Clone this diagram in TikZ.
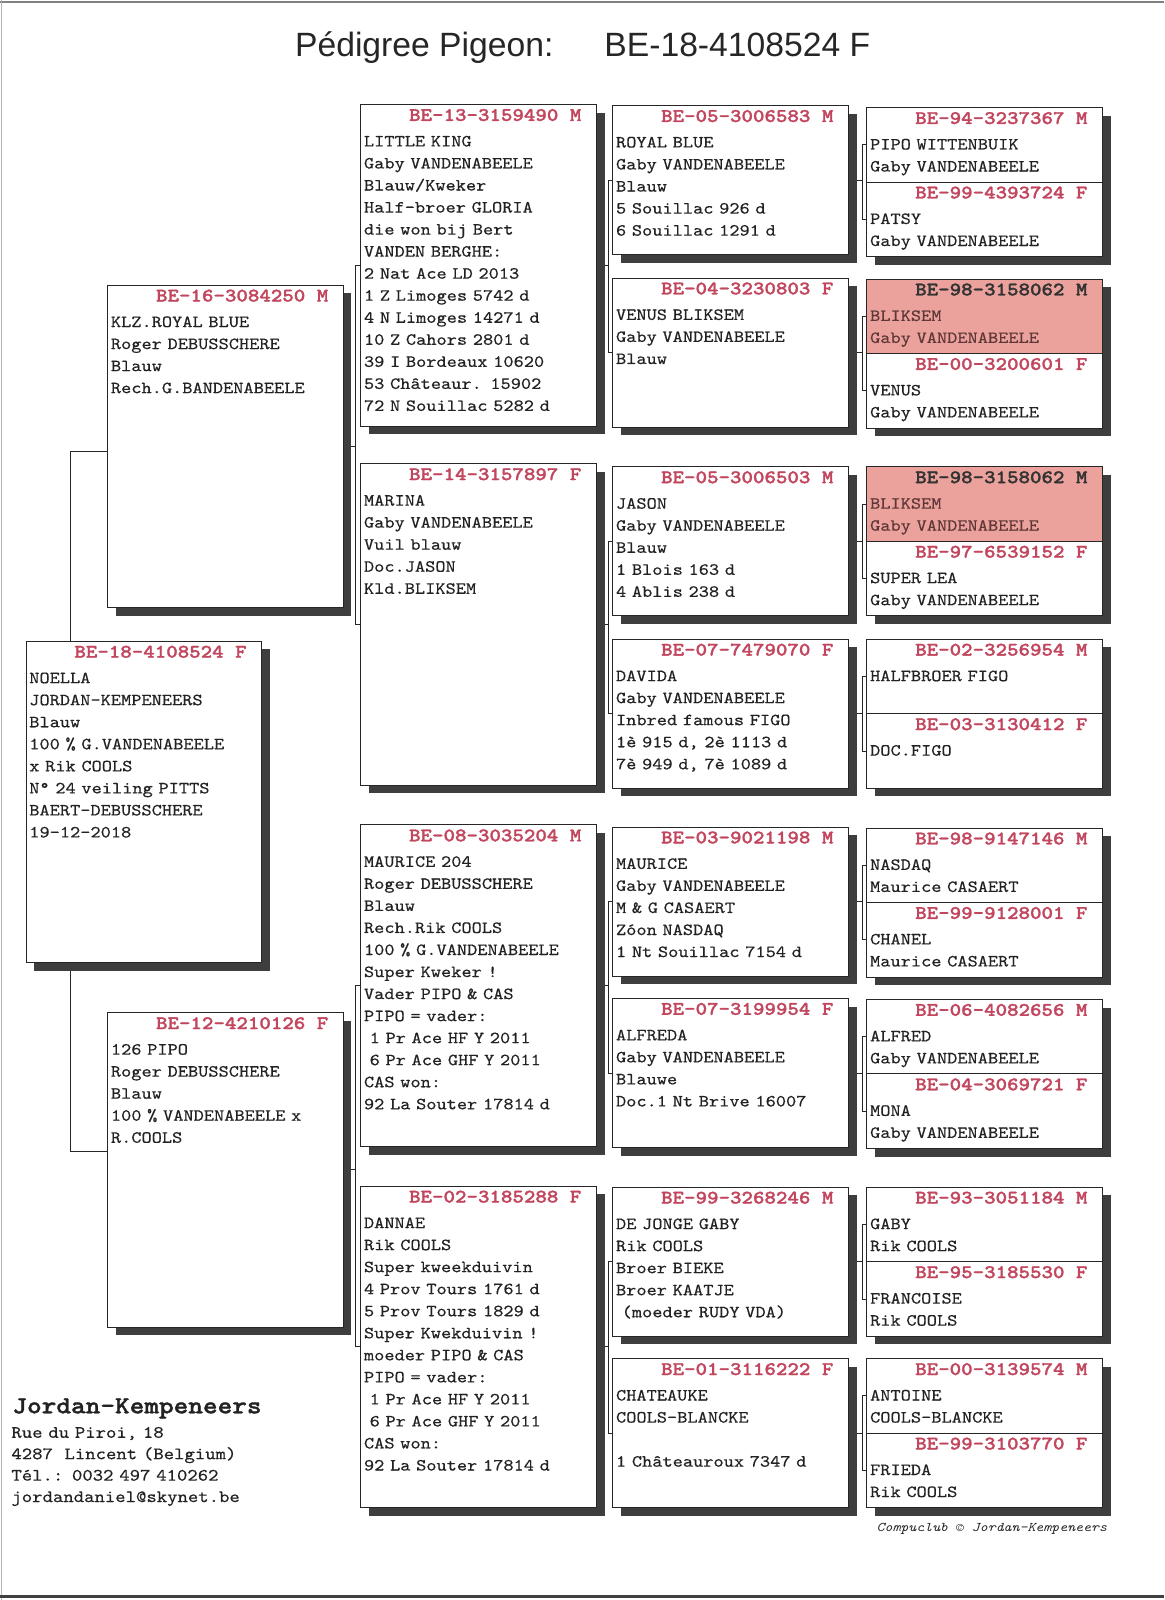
\documentclass[tikz,border=0pt]{standalone}
\usepackage{fontspec}
\newfontfamily\cour{lmmono10-regular.otf}[FakeStretch=1.14,UprightFeatures={FakeBold=0.4},
  BoldFont=lmmonolt10-bold.otf,BoldFeatures={FakeBold=1.4},ItalicFont=lmmono10-italic.otf]
\newfontfamily\arial{Liberation Sans}
\usepackage{xcolor}
\usetikzlibrary{calc,shadows,backgrounds}

\definecolor{hdred}{RGB}{194,70,94}
\definecolor{ink}{RGB}{34,34,34}
\definecolor{pinkbg}{RGB}{236,162,156}
\definecolor{pinkink}{RGB}{95,55,55}
\definecolor{shade}{RGB}{62,62,62}

\begin{document}
\begin{tikzpicture}[x=1pt,y=-1pt,
  box/.style={draw=black!85,line width=0.9pt,fill=white,anchor=north west,inner sep=0pt,
    minimum width=231pt,drop shadow={shadow xshift=8pt,shadow yshift=-8pt,fill=shade,opacity=1}},
  big/.style={box,minimum height=315pt},
  small/.style={box,minimum height=146pt},
  half/.style={box,minimum height=73pt},
  hot/.style={fill=pinkbg},
  hd/.style={anchor=base east,xshift=-15pt,yshift=-16.5pt,inner sep=0pt,text=hdred,
    font=\cour\bfseries\fontsize{18.8}{20}\selectfont},
  txt/.style={anchor=base west,xshift=3.5pt,yshift=-41.5pt,inner sep=0pt,text width=224pt,
    align=left,text=ink,font=\cour\fontsize{16.7}{21.6}\selectfont},
  link/.style={black!85,line width=0.8pt}]
  \useasboundingbox (0,0) rectangle (1141,1568);
  % scanner edges
  \draw[black!50,line width=1.5pt] (0,2) -- (1141,2);
  \draw[black!30,line width=1.5pt] (1.5,0) -- (1.5,1568);
  \draw[black!75,line width=3pt] (0,1565) -- (1141,1565);

  \node[anchor=base west,inner sep=0pt,text=black!85,font=\arial\fontsize{33}{36}\selectfont] (title) at (289,55)
    {Pédigree Pigeon:\hspace{50pt}BE-18-4108524 F};

  % generation 1 : the pigeon itself
  \node[big,label={[hd]north east:BE-18-4108524 F}] (noella) at (25,628) {};
  \node[txt] at (noella.north west) {NOELLA\\JORDAN-KEMPENEERS\\Blauw\\100 \% G.VANDENABEELE\\x Rik COOLS\\N° 24 veiling PITTS\\BAERT-DEBUSSCHERE\\19-12-2018};

  % generation 2 : father (top) and mother (bottom)
  \node[big,minimum height=316pt,label={[hd]north east:BE-16-3084250 M}] (klzroyal) at (105,279) {};
  \node[txt] at (klzroyal.north west) {KLZ.ROYAL BLUE\\Roger DEBUSSCHERE\\Blauw\\Rech.G.BANDENABEELE};
  \node[big,minimum height=308pt,label={[hd]north east:BE-12-4210126 F}] (pipo126) at (105,992) {};
  \node[txt] at (pipo126.north west) {126 PIPO\\Roger DEBUSSCHERE\\Blauw\\100 \% VANDENABEELE x\\R.COOLS};

  % generation 3 : grandparents
  \node[big,label={[hd]north east:BE-13-3159490 M}] (littleking) at (353,102) {};
  \node[txt] at (littleking.north west) {LITTLE KING\\Gaby VANDENABEELE\\Blauw/Kweker\\Half-broer GLORIA\\die won bij Bert\\VANDEN BERGHE:\\2 Nat Ace LD 2013\\1 Z Limoges 5742 d\\4 N Limoges 14271 d\\10 Z Cahors 2801 d\\39 I Bordeaux 10620\\53 Châteaur. 15902\\72 N Souillac 5282 d};
  \node[big,label={[hd]north east:BE-14-3157897 F}] (marina) at (353,454) {};
  \node[txt] at (marina.north west) {MARINA\\Gaby VANDENABEELE\\Vuil blauw\\Doc.JASON\\Kld.BLIKSEM};
  \node[big,label={[hd]north east:BE-08-3035204 M}] (maurice) at (353,808) {};
  \node[txt] at (maurice.north west) {MAURICE 204\\Roger DEBUSSCHERE\\Blauw\\Rech.Rik COOLS\\100 \% G.VANDENABEELE\\Super Kweker !\\Vader PIPO \& CAS\\PIPO = vader:\\~1 Pr Ace HF Y 2011\\~6 Pr Ace GHF Y 2011\\CAS won:\\92 La Souter 17814 d};
  \node[big,label={[hd]north east:BE-02-3185288 F}] (dannae) at (353,1162) {};
  \node[txt] at (dannae.north west) {DANNAE\\Rik COOLS\\Super kweekduivin\\4 Prov Tours 1761 d\\5 Prov Tours 1829 d\\Super Kwekduivin !\\moeder PIPO \& CAS\\PIPO = vader:\\~1 Pr Ace HF Y 2011\\~6 Pr Ace GHF Y 2011\\CAS won:\\92 La Souter 17814 d};

  % generation 4 : great-grandparents
  \node[small,label={[hd]north east:BE-05-3006583 M}] (royalblue) at (600,103) {};
  \node[txt] at (royalblue.north west) {ROYAL BLUE\\Gaby VANDENABEELE\\Blauw\\5 Souillac 926 d\\6 Souillac 1291 d};
  \node[small,label={[hd]north east:BE-04-3230803 F}] (venusbliksem) at (600,272) {};
  \node[txt] at (venusbliksem.north west) {VENUS BLIKSEM\\Gaby VANDENABEELE\\Blauw};
  \node[small,label={[hd]north east:BE-05-3006503 M}] (jason) at (600,457) {};
  \node[txt] at (jason.north west) {JASON\\Gaby VANDENABEELE\\Blauw\\1 Blois 163 d\\4 Ablis 238 d};
  \node[small,label={[hd]north east:BE-07-7479070 F}] (davida) at (600,626) {};
  \node[txt] at (davida.north west) {DAVIDA\\Gaby VANDENABEELE\\Inbred famous FIGO\\1è 915 d, 2è 1113 d\\7è 949 d, 7è 1089 d};
  \node[small,label={[hd]north east:BE-03-9021198 M}] (mauriceg) at (600,810) {};
  \node[txt] at (mauriceg.north west) {MAURICE\\Gaby VANDENABEELE\\M \& G CASAERT\\Zóon NASDAQ\\1 Nt Souillac 7154 d};
  \node[small,label={[hd]north east:BE-07-3199954 F}] (alfreda) at (600,978) {};
  \node[txt] at (alfreda.north west) {ALFREDA\\Gaby VANDENABEELE\\Blauwe\\Doc.1 Nt Brive 16007};
  \node[small,label={[hd]north east:BE-99-3268246 M}] (jongegaby) at (600,1163) {};
  \node[txt] at (jongegaby.north west) {DE JONGE GABY\\Rik COOLS\\Broer BIEKE\\Broer KAATJE\\~(moeder RUDY VDA)};
  \node[small,label={[hd]north east:BE-01-3116222 F}] (chateauke) at (600,1331) {};
  \node[txt] at (chateauke.north west) {CHATEAUKE\\COOLS-BLANCKE\\[21.6pt]1 Châteauroux 7347 d};

  % generation 5 : stacked pairs, BLIKSEM highlighted
  \node[half,label={[hd]north east:BE-94-3237367 M}] (pipow) at (849,105) {};
  \node[txt] at (pipow.north west) {PIPO WITTENBUIK\\Gaby VANDENABEELE};
  \node[half,label={[hd]north east:BE-99-4393724 F}] (patsy) at (849,178) {};
  \node[txt] at (patsy.north west) {PATSY\\Gaby VANDENABEELE};
  \node[half,hot,label={[hd,text=black!80]north east:BE-98-3158062 M}] (bliksema) at (849,273) {};
  \node[txt,text=pinkink] at (bliksema.north west) {BLIKSEM\\Gaby VANDENABEELE};
  \node[half,label={[hd]north east:BE-00-3200601 F}] (venus) at (849,346) {};
  \node[txt] at (venus.north west) {VENUS\\Gaby VANDENABEELE};
  \node[half,hot,label={[hd,text=black!80]north east:BE-98-3158062 M}] (bliksemb) at (849,457) {};
  \node[txt,text=pinkink] at (bliksemb.north west) {BLIKSEM\\Gaby VANDENABEELE};
  \node[half,label={[hd]north east:BE-97-6539152 F}] (superlea) at (849,530) {};
  \node[txt] at (superlea.north west) {SUPER LEA\\Gaby VANDENABEELE};
  \node[half,label={[hd]north east:BE-02-3256954 M}] (halfbroer) at (849,626) {};
  \node[txt] at (halfbroer.north west) {HALFBROER FIGO};
  \node[half,label={[hd]north east:BE-03-3130412 F}] (docfigo) at (849,699) {};
  \node[txt] at (docfigo.north west) {DOC.FIGO};
  \node[half,label={[hd]north east:BE-98-9147146 M}] (nasdaq) at (849,811) {};
  \node[txt] at (nasdaq.north west) {NASDAQ\\Maurice CASAERT};
  \node[half,label={[hd]north east:BE-99-9128001 F}] (chanel) at (849,884) {};
  \node[txt] at (chanel.north west) {CHANEL\\Maurice CASAERT};
  \node[half,label={[hd]north east:BE-06-4082656 M}] (alfred) at (849,979) {};
  \node[txt] at (alfred.north west) {ALFRED\\Gaby VANDENABEELE};
  \node[half,label={[hd]north east:BE-04-3069721 F}] (mona) at (849,1052) {};
  \node[txt] at (mona.north west) {MONA\\Gaby VANDENABEELE};
  \node[half,label={[hd]north east:BE-93-3051184 M}] (gaby) at (849,1163) {};
  \node[txt] at (gaby.north west) {GABY\\Rik COOLS};
  \node[half,label={[hd]north east:BE-95-3185530 F}] (francoise) at (849,1236) {};
  \node[txt] at (francoise.north west) {FRANCOISE\\Rik COOLS};
  \node[half,label={[hd]north east:BE-00-3139574 M}] (antoine) at (849,1331) {};
  \node[txt] at (antoine.north west) {ANTOINE\\COOLS-BLANCKE};
  \node[half,label={[hd]north east:BE-99-3103770 F}] (frieda) at (849,1404) {};
  \node[txt] at (frieda.north west) {FRIEDA\\Rik COOLS};

  % brackets, kept behind the boxes
  \begin{scope}[on background layer]
    \draw[link] ([yshift=-5pt]klzroyal.west) -- ++(-36,0) |- ([yshift=18pt]pipo126.west);
    \draw[link] (littleking.west) -- ++(-5,0) |- (marina.west);
    \draw[link] (klzroyal.east) -- ++(12,0);
    \draw[link] (maurice.west) -- ++(-5,0) |- (dannae.west);
    \draw[link] (pipo126.east) -- ++(12,0);

    \draw[link] (royalblue.west) -- ++(-4,0) |- (venusbliksem.west);
    \draw[link] (littleking.east) -- ++(12,0);
    \draw[link] (jason.west) -- ++(-4,0) |- (davida.west);
    \draw[link] (marina.east) -- ++(12,0);
    \draw[link] (mauriceg.west) -- ++(-4,0) |- (alfreda.west);
    \draw[link] (maurice.east) -- ++(12,0);
    \draw[link] (jongegaby.west) -- ++(-4,0) |- (chateauke.west);
    \draw[link] (dannae.east) -- ++(12,0);

    \draw[link] (pipow.west) -- ++(-4,0) |- (patsy.west);
    \draw[link] (royalblue.east) -- ++(14,0);
    \draw[link] (bliksema.west) -- ++(-4,0) |- (venus.west);
    \draw[link] (venusbliksem.east) -- ++(14,0);
    \draw[link] (bliksemb.west) -- ++(-4,0) |- (superlea.west);
    \draw[link] (jason.east) -- ++(14,0);
    \draw[link] (halfbroer.west) -- ++(-4,0) |- (docfigo.west);
    \draw[link] (davida.east) -- ++(14,0);
    \draw[link] (nasdaq.west) -- ++(-4,0) |- (chanel.west);
    \draw[link] (mauriceg.east) -- ++(14,0);
    \draw[link] (alfred.west) -- ++(-4,0) |- (mona.west);
    \draw[link] (alfreda.east) -- ++(14,0);
    \draw[link] (gaby.west) -- ++(-4,0) |- (francoise.west);
    \draw[link] (jongegaby.east) -- ++(14,0);
    \draw[link] (antoine.west) -- ++(-4,0) |- (frieda.west);
    \draw[link] (chateauke.east) -- ++(14,0);
  \end{scope}

  % breeder address and credit line
  \node[anchor=base west,inner sep=0pt,text=ink,font=\cour\bfseries\fontsize{24}{26}\selectfont] (firm) at (12,1385) {Jordan-Kempeneers};
  \node[anchor=base west,inner sep=0pt,text width=320pt,align=left,text=ink,font=\cour\fontsize{17}{21}\selectfont] (address) at (11,1409)
    {Rue du Piroi, 18\\4287~ Lincent (Belgium)\\Tél.: 0032 497 410262\\jordandaniel@skynet.be};
  \node[anchor=base east,inner sep=0pt,text=ink,font=\cour\itshape\fontsize{13}{15}\selectfont] (credit) at (1085,1501) {Compuclub © Jordan-Kempeneers};
\end{tikzpicture}
\end{document}
